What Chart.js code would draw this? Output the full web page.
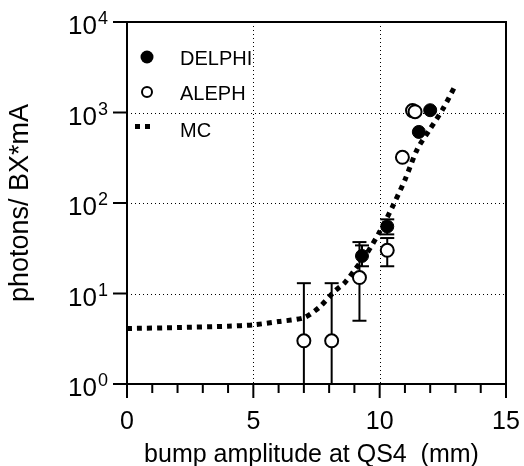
<!DOCTYPE html>
<html><head><meta charset="utf-8">
<script src="https://cdn.jsdelivr.net/npm/chart.js@4/dist/chart.umd.min.js"></script>
<style>html,body{margin:0;padding:0;background:#fff;}#wrap{width:524px;height:466px;}</style>
</head><body><div id="wrap"><canvas id="c" width="524" height="466"></canvas></div>
<script>
// ---- data ----
const mcX = [0, 2, 4, 5, 6, 7, 7.6, 8.2, 8.6, 9.0, 9.5, 10.0, 10.5, 11.0, 11.5, 12.0, 12.5, 13.0];
const mcY = [4.1, 4.2, 4.35, 4.5, 4.9, 5.4, 7, 10.5, 13, 18, 28, 48, 90, 180, 400, 660, 1090, 2000];

const delphiX  = [9.3, 10.3, 11.55, 12.0];
const delphiY  = [26, 55, 610, 1060];
const delphiLo = [20, 45, null, null];
const delphiHi = [34, 66, null, null];

const alephX  = [7.0, 8.1, 9.2, 10.3, 10.9, 11.3, 11.4];
const alephY  = [3, 3, 15, 30, 320, 1050, 1020];
const alephLo = [1, 1, 5, 20, null, null, null];
const alephHi = [13, 13, 37, 41, null, null, null];

const xMajorTicks = [0, 5, 10, 15];
const xMinorTicks = [1, 2, 3, 4, 6, 7, 8, 9, 11, 12, 13, 14];
const xGridValues = [5, 10];
const yMajorTicks = [1, 10, 100, 1000, 10000];
const yTickBase = '10';
const yTickExp = ['0', '1', '2', '3', '4'];
const yGridValues = [10, 100, 1000];
const xTitle = 'bump amplitude at QS4  (mm)';
const yTitle = 'photons/ BX*mA';
const legendLabels = ['DELPHI', 'ALEPH', 'MC'];

const FONT = '"Liberation Sans", Arial, sans-serif';

function pts(xs, ys) { return xs.map((x, i) => ({x: x, y: ys[i]})); }

const axesPlugin = {
  id: 'axesPlugin',
  beforeDatasetsDraw(chart) {
    const ctx = chart.ctx, a = chart.chartArea;
    const xs = chart.scales.x, ys = chart.scales.y;
    ctx.save();
    ctx.strokeStyle = '#000';
    ctx.lineWidth = 1;
    ctx.setLineDash([1, 3]);
    xGridValues.forEach(v => {
      const px = Math.round(xs.getPixelForValue(v)) + 0.5;
      ctx.beginPath(); ctx.moveTo(px, a.top); ctx.lineTo(px, a.bottom); ctx.stroke();
    });
    yGridValues.forEach(v => {
      const py = Math.round(ys.getPixelForValue(v)) + 0.5;
      ctx.beginPath(); ctx.moveTo(a.left, py); ctx.lineTo(a.right, py); ctx.stroke();
    });
    ctx.setLineDash([]);
    ctx.lineWidth = 2;
    const drawErr = (X, Y, LO, HI) => {
      X.forEach((x, i) => {
        if (LO[i] == null) return;
        const px = xs.getPixelForValue(x);
        const pl = Math.min(ys.getPixelForValue(LO[i]), a.bottom);
        const ph = ys.getPixelForValue(HI[i]);
        ctx.beginPath(); ctx.moveTo(px, pl); ctx.lineTo(px, ph); ctx.stroke();
        ctx.beginPath(); ctx.moveTo(px - 7, ph); ctx.lineTo(px + 7, ph); ctx.stroke();
        if (LO[i] > 1) { ctx.beginPath(); ctx.moveTo(px - 7, pl); ctx.lineTo(px + 7, pl); ctx.stroke(); }
      });
    };
    drawErr(alephX, alephY, alephLo, alephHi);
    drawErr(delphiX, delphiY, delphiLo, delphiHi);
    ctx.restore();
  },
  afterDatasetsDraw(chart) {
    const ctx = chart.ctx, a = chart.chartArea;
    const xs = chart.scales.x, ys = chart.scales.y;
    ctx.save();
    ctx.strokeStyle = '#000';
    ctx.fillStyle = '#000';
    ctx.lineWidth = 2;
    ctx.strokeRect(a.left, a.top, a.right - a.left, a.bottom - a.top);
    xMajorTicks.forEach(v => {
      const px = xs.getPixelForValue(v);
      ctx.beginPath(); ctx.moveTo(px, a.bottom); ctx.lineTo(px, a.bottom + 14); ctx.stroke();
    });
    xMinorTicks.forEach(v => {
      const px = xs.getPixelForValue(v);
      ctx.beginPath(); ctx.moveTo(px, a.bottom); ctx.lineTo(px, a.bottom + 9); ctx.stroke();
    });
    yMajorTicks.forEach(v => {
      const py = ys.getPixelForValue(v);
      ctx.beginPath(); ctx.moveTo(a.left - 14, py); ctx.lineTo(a.left, py); ctx.stroke();
    });
    ctx.font = '25px ' + FONT;
    ctx.textAlign = 'center';
    ctx.textBaseline = 'alphabetic';
    xMajorTicks.forEach(v => {
      ctx.fillText(String(v), xs.getPixelForValue(v), a.bottom + 45);
    });
    yMajorTicks.forEach((v, i) => {
      const py = ys.getPixelForValue(v);
      ctx.font = '26px ' + FONT;
      ctx.textAlign = 'right';
      ctx.fillText(yTickBase, 97, py + 12);
      ctx.font = '18px ' + FONT;
      ctx.textAlign = 'left';
      ctx.fillText(yTickExp[i], 98, py + 2);
    });
    ctx.font = '25px ' + FONT;
    ctx.textAlign = 'center';
    ctx.fillText(xTitle, (a.left + a.right) / 2 - 5, 462);
    ctx.save();
    ctx.font = '27px ' + FONT;
    ctx.translate(28, (a.top + a.bottom) / 2);
    ctx.rotate(-Math.PI / 2);
    ctx.fillText(yTitle, 0, 0);
    ctx.restore();
    ctx.font = '20px ' + FONT;
    ctx.textAlign = 'left';
    ctx.beginPath(); ctx.arc(147, 57, 6.5, 0, Math.PI * 2); ctx.fill();
    ctx.fillText(legendLabels[0], 180, 65);
    ctx.beginPath(); ctx.arc(147, 92, 5, 0, Math.PI * 2);
    ctx.fillStyle = '#fff'; ctx.fill(); ctx.fillStyle = '#000'; ctx.stroke();
    ctx.fillText(legendLabels[1], 180, 100);
    ctx.fillRect(135, 124, 5, 5);
    ctx.fillRect(145, 124, 5, 5);
    ctx.fillText(legendLabels[2], 180, 137);
    ctx.restore();
  }
};

new Chart(document.getElementById('c'), {
  type: 'scatter',
  data: {
    datasets: [
      {
        label: legendLabels[2], type: 'line', data: pts(mcX, mcY),
        borderColor: '#000', borderWidth: 5, borderDash: [5, 5],
        pointRadius: 0, fill: false, tension: 0.25, borderCapStyle: 'butt'
      },
      {
        label: legendLabels[1], data: pts(alephX, alephY),
        pointStyle: 'circle', pointRadius: 6.5, pointBorderWidth: 2,
        pointBackgroundColor: '#fff', pointBorderColor: '#000',
        backgroundColor: '#fff', borderColor: '#000'
      },
      {
        label: legendLabels[0], data: pts(delphiX, delphiY),
        pointStyle: 'circle', pointRadius: 6.5, pointBorderWidth: 1,
        pointBackgroundColor: '#000', pointBorderColor: '#000',
        backgroundColor: '#000', borderColor: '#000'
      }
    ]
  },
  options: {
    responsive: false,
    animation: false,
    devicePixelRatio: 1,
    layout: { padding: { left: 127, right: 18, top: 22, bottom: 82 } },
    plugins: { legend: { display: false }, tooltip: { enabled: false } },
    scales: {
      x: { type: 'linear', min: 0, max: 15, display: false },
      y: { type: 'logarithmic', min: 1, max: 10000, display: false }
    }
  },
  plugins: [axesPlugin]
});
</script>
</body></html>
